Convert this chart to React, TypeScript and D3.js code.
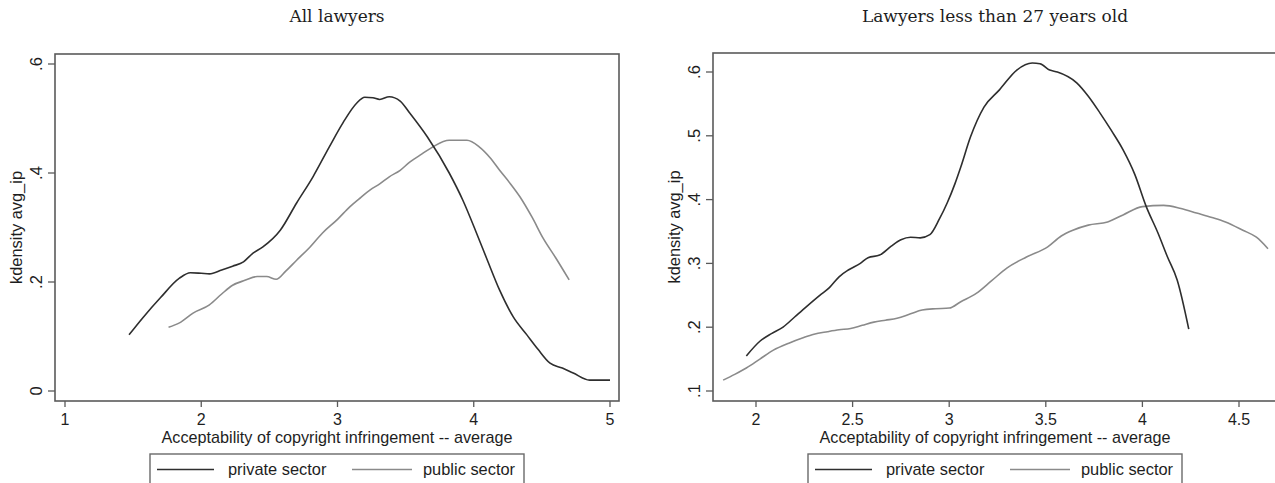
import React from "react";
import * as d3 from "d3";

// ---- Data ----
const leftTitle = "All lawyers";
const rightTitle = "Lawyers less than 27 years old";
const xAxisTitle = "Acceptability of copyright infringement -- average";
const yAxisTitle = "kdensity avg_ip";
const seriesNames = ["private sector", "public sector"];

const leftXTicks = [1, 2, 3, 4, 5];
const leftYTicks = [0, 0.2, 0.4, 0.6];
const rightXTicks = [2, 2.5, 3, 3.5, 4, 4.5];
const rightYTicks = [0.1, 0.2, 0.3, 0.4, 0.5, 0.6];

const leftPrivate: [number, number][] = [
  [1.47, 0.103], [1.57, 0.134], [1.7, 0.171], [1.84, 0.207], [1.92, 0.217], [2.0, 0.216],
  [2.06, 0.215], [2.15, 0.222], [2.23, 0.229], [2.31, 0.237], [2.38, 0.253], [2.45, 0.264],
  [2.58, 0.295], [2.7, 0.345], [2.82, 0.393], [2.94, 0.448], [3.04, 0.492], [3.14, 0.528],
  [3.2, 0.539], [3.26, 0.538], [3.31, 0.535], [3.38, 0.54], [3.46, 0.532], [3.53, 0.51],
  [3.66, 0.466], [3.82, 0.4], [3.92, 0.35], [4.02, 0.29], [4.1, 0.24], [4.19, 0.185],
  [4.29, 0.136], [4.39, 0.103], [4.47, 0.077], [4.56, 0.051], [4.65, 0.042], [4.73, 0.033],
  [4.85, 0.02], [5.0, 0.02],
];

const leftPublic: [number, number][] = [
  [1.76, 0.117], [1.84, 0.125], [1.94, 0.143], [2.06, 0.158], [2.15, 0.178], [2.23, 0.194],
  [2.32, 0.203], [2.41, 0.21], [2.48, 0.21], [2.55, 0.205], [2.62, 0.22], [2.7, 0.24],
  [2.79, 0.262], [2.89, 0.29], [3.0, 0.315], [3.09, 0.338], [3.17, 0.355], [3.24, 0.369],
  [3.31, 0.38], [3.38, 0.393], [3.46, 0.405], [3.53, 0.42], [3.62, 0.435], [3.7, 0.448],
  [3.82, 0.46], [3.95, 0.46], [4.04, 0.448], [4.12, 0.428], [4.19, 0.405], [4.27, 0.38],
  [4.34, 0.356], [4.43, 0.318], [4.51, 0.28], [4.6, 0.245], [4.7, 0.204],
];

const rightPrivate: [number, number][] = [
  [1.95, 0.155], [2.02, 0.178], [2.08, 0.19], [2.14, 0.2], [2.2, 0.216], [2.26, 0.232],
  [2.33, 0.25], [2.38, 0.262], [2.43, 0.279], [2.48, 0.29], [2.54, 0.3], [2.58, 0.309],
  [2.64, 0.313], [2.7, 0.327], [2.75, 0.337], [2.8, 0.341], [2.85, 0.34], [2.9, 0.345],
  [2.95, 0.37], [2.99, 0.395], [3.03, 0.425], [3.06, 0.451], [3.11, 0.498], [3.18, 0.545],
  [3.26, 0.572], [3.35, 0.603], [3.43, 0.614], [3.47, 0.613], [3.52, 0.603], [3.56, 0.6],
  [3.66, 0.583], [3.72, 0.562], [3.78, 0.536], [3.84, 0.508], [3.9, 0.478], [3.96, 0.44],
  [4.02, 0.389], [4.08, 0.348], [4.13, 0.31], [4.18, 0.274], [4.24, 0.197],
];

const rightPublic: [number, number][] = [
  [1.83, 0.117], [1.89, 0.126], [1.95, 0.136], [2.02, 0.15], [2.09, 0.164], [2.17, 0.175],
  [2.24, 0.183], [2.3, 0.189], [2.37, 0.193], [2.43, 0.196], [2.49, 0.198], [2.55, 0.203],
  [2.61, 0.208], [2.67, 0.211], [2.73, 0.214], [2.8, 0.221], [2.86, 0.227], [2.93, 0.229],
  [3.0, 0.23], [3.06, 0.24], [3.14, 0.253], [3.22, 0.273], [3.3, 0.293], [3.4, 0.31],
  [3.51, 0.326], [3.58, 0.343], [3.64, 0.352], [3.72, 0.36], [3.82, 0.365], [3.9, 0.376],
  [4.0, 0.389], [4.11, 0.391], [4.2, 0.386], [4.28, 0.379], [4.36, 0.372], [4.43, 0.365],
  [4.52, 0.352], [4.59, 0.341], [4.65, 0.323],
];

// ---- Styles ----
const PRIVATE_COLOR = "#2e2e2e";
const PUBLIC_COLOR = "#8a8a8a";
const FRAME_COLOR = "#5a5a5a";
const TEXT_COLOR = "#1e1e1e";
const SANS = "'Liberation Sans', Arial, sans-serif";
const SERIF = "'DejaVu Serif', Georgia, serif";

type PanelProps = {
  title: string;
  xDomain: [number, number];
  xRange: [number, number];
  yDomain: [number, number];
  yRange: [number, number];
  frame: { left: number; right: number; top: number; bottom: number };
  xTicks: number[];
  yTicks: number[];
  priv: [number, number][];
  pub: [number, number][];
  legendLeft: number;
};

const fmtX = (v: number) => String(v);
const fmtY = (v: number) => (v === 0 ? "0" : String(v).replace(/^0\./, "."));

function Panel(p: PanelProps) {
  const x = d3.scaleLinear().domain(p.xDomain).range(p.xRange);
  const y = d3.scaleLinear().domain(p.yDomain).range(p.yRange);
  const line = d3
    .line<[number, number]>()
    .x((d) => x(d[0]))
    .y((d) => y(d[1]))
    .curve(d3.curveMonotoneX);
  const { left, right, top, bottom } = p.frame;
  const cx = (left + right) / 2;
  const cy = (top + bottom) / 2;
  const lg = p.legendLeft;
  return (
    <g>
      <text x={cx} y={22} textAnchor="middle" fontFamily={SERIF} fontSize={17} fill={TEXT_COLOR}>
        {p.title}
      </text>
      <rect x={left} y={top} width={right - left} height={bottom - top} fill="none" stroke={FRAME_COLOR} strokeWidth={1.6} />
      {p.yTicks.map((t) => (
        <g key={"y" + t}>
          <line x1={left - 7} x2={left} y1={y(t)} y2={y(t)} stroke={FRAME_COLOR} strokeWidth={1.3} />
          <text
            transform={`translate(${left - 13.5},${y(t)}) rotate(-90)`}
            textAnchor="middle"
            fontFamily={SANS}
            fontSize={16.5}
            fill={TEXT_COLOR}
          >
            {fmtY(t)}
          </text>
        </g>
      ))}
      {p.xTicks.map((t) => (
        <g key={"x" + t}>
          <line x1={x(t)} x2={x(t)} y1={bottom} y2={bottom + 6} stroke={FRAME_COLOR} strokeWidth={1.3} />
          <text x={x(t)} y={425} textAnchor="middle" fontFamily={SANS} fontSize={16} fill={TEXT_COLOR}>
            {fmtX(t)}
          </text>
        </g>
      ))}
      <text x={cx} y={443} textAnchor="middle" fontFamily={SANS} fontSize={16.2} fill={TEXT_COLOR}>
        {xAxisTitle}
      </text>
      <text
        transform={`translate(${left - 33},${cy}) rotate(-90)`}
        textAnchor="middle"
        fontFamily={SANS}
        fontSize={16.4}
        fill={TEXT_COLOR}
      >
        {yAxisTitle}
      </text>
      <path d={line(p.pub) || ""} fill="none" stroke={PUBLIC_COLOR} strokeWidth={1.6} />
      <path d={line(p.priv) || ""} fill="none" stroke={PRIVATE_COLOR} strokeWidth={1.6} />
      {/* legend */}
      <rect x={lg} y={454} width={374} height={40} fill="#fff" stroke="#6a6a6a" strokeWidth={1.4} />
      <line x1={lg + 7} x2={lg + 64} y1={469.5} y2={469.5} stroke={PRIVATE_COLOR} strokeWidth={1.5} />
      <text x={lg + 78} y={475} fontFamily={SANS} fontSize={16.4} fill={TEXT_COLOR}>
        {seriesNames[0]}
      </text>
      <line x1={lg + 202} x2={lg + 262} y1={469.5} y2={469.5} stroke={PUBLIC_COLOR} strokeWidth={1.5} />
      <text x={lg + 273} y={475} fontFamily={SANS} fontSize={16.4} fill={TEXT_COLOR}>
        {seriesNames[1]}
      </text>
    </g>
  );
}

export default function App() {
  return (
    <svg
      width={1275}
      height={483}
      viewBox="0 0 1275 483"
      style={{ position: "absolute", left: 0, top: 0, background: "#fff", overflow: "hidden" }}
    >
      <rect x={0} y={0} width={1275} height={483} fill="#fff" />
      <Panel
        title={leftTitle}
        xDomain={[1, 5]}
        xRange={[65, 610]}
        yDomain={[0, 0.6]}
        yRange={[391, 64]}
        frame={{ left: 55, right: 619, top: 54, bottom: 401 }}
        xTicks={leftXTicks}
        yTicks={leftYTicks}
        priv={leftPrivate}
        pub={leftPublic}
        legendLeft={150}
      />
      <Panel
        title={rightTitle}
        xDomain={[2, 4.5]}
        xRange={[756, 1239]}
        yDomain={[0.1, 0.6]}
        yRange={[391, 72]}
        frame={{ left: 713, right: 1277, top: 53, bottom: 401 }}
        xTicks={rightXTicks}
        yTicks={rightYTicks}
        priv={rightPrivate}
        pub={rightPublic}
        legendLeft={808}
      />
    </svg>
  );
}
